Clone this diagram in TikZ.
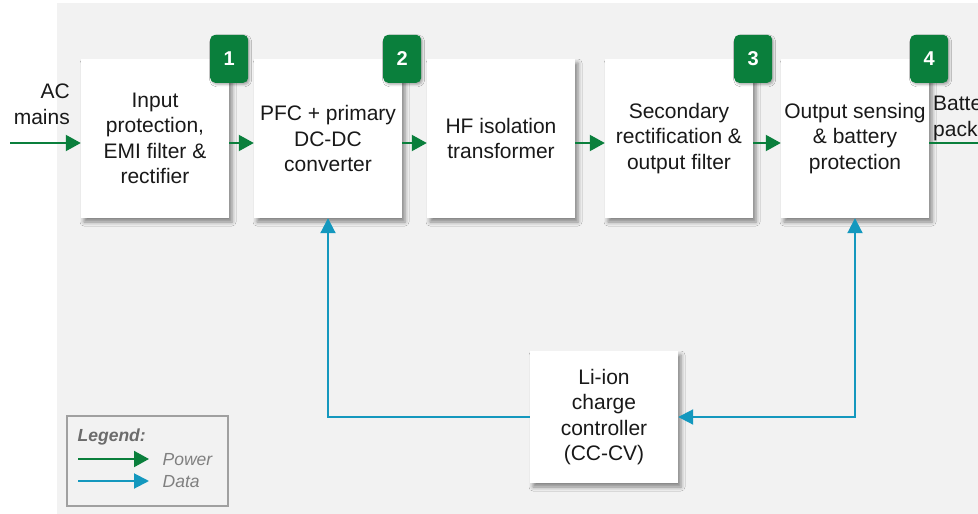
\documentclass[tikz,border=0pt]{standalone}
\usepackage{fontspec}
\setmainfont{Liberation Sans}
\usetikzlibrary{arrows.meta,shadows.blur}

\definecolor{pwgreen}{RGB}{10,127,60}
\definecolor{dtblue}{RGB}{20,152,190}
\definecolor{panelgray}{RGB}{242,242,242}
\definecolor{legendtxt}{RGB}{128,128,128}
\definecolor{legendhead}{RGB}{108,108,108}
\definecolor{legendframe}{RGB}{160,160,160}
\definecolor{boxtext}{RGB}{25,25,25}

\tikzset{
  stage/.style={fill=white, minimum width=148pt, minimum height=159pt,
    inner sep=0pt, align=center, text=boxtext,
    font=\fontsize{21}{25.5}\selectfont,
    blur shadow={shadow xshift=3pt, shadow yshift=-4pt,
      shadow blur radius=4pt, shadow opacity=45}},
  ctrlbox/.style={stage, minimum height=132pt},
  badge/.style={fill=pwgreen, rounded corners=5pt, minimum width=38pt,
    minimum height=48pt, inner sep=0pt, text=white,
    font=\fontsize{20}{24}\selectfont\bfseries,
    blur shadow={shadow xshift=1.5pt, shadow yshift=-2pt,
      shadow blur radius=2pt, shadow opacity=30}},
  sidetext/.style={inner sep=0pt, text=boxtext,
    font=\fontsize{21}{25.5}\selectfont},
  pw/.style={draw=pwgreen, line width=2pt, -{Triangle[length=15pt,width=16pt]}},
  dt/.style={draw=dtblue, line width=2pt, -{Triangle[length=15pt,width=15pt]}},
  dtboth/.style={draw=dtblue, line width=2pt,
    {Triangle[length=15pt,width=15pt]}-{Triangle[length=15pt,width=15pt]}},
  legendbox/.style={draw=legendframe, line width=1.3pt, minimum width=161pt,
    minimum height=90pt, inner sep=0pt},
  legendhd/.style={inner sep=0pt, text=legendhead,
    font=\fontsize{17.5}{21}\selectfont\bfseries\itshape},
  legendlbl/.style={inner sep=0pt, text=legendtxt,
    font=\fontsize{17.5}{21}\selectfont\itshape},
}

\begin{document}
\begin{tikzpicture}[x=1pt, y=-1pt]
  \clip (0,0) rectangle (978,514);
  \fill[white] (0,0) rectangle (978,514);
  \fill[panelgray] (57,3) rectangle (1000,530);

  % signal-chain stages
  \node[stage] (b1) at (155,138.5) {Input\\protection,\\EMI filter \&\\rectifier};
  \node[stage] (b2) at (328,138.5) {PFC + primary\\DC-DC\\converter};
  \node[stage] (b3) at (501,138.5) {HF isolation\\transformer};
  \node[stage] (b4) at (679,138.5) {Secondary\\rectification \&\\output filter};
  \node[stage] (b5) at (855,138.5) {Output sensing\\\& battery\\protection};

  % charge controller
  \node[ctrlbox] (li) at (604,417) {Li-ion\\charge\\controller\\(CC-CV)};

  % numbered badges
  \node[badge] (n1) at (b1.north east) {1};
  \node[badge] (n2) at (b2.north east) {2};
  \node[badge] (n4) at (b4.north east) {3};
  \node[badge] (n5) at (b5.north east) {4};

  % input / output labels
  \node[sidetext, align=right, anchor=east] (acl) at (70,104.25) {AC\\mains};
  \node[sidetext, align=left, anchor=west] (bpl) at (933,118.5) {Battery\\pack};
  \coordinate (acin) at (10,143);
  \coordinate (bpout) at (1000,143);

  % power path
  \draw[pw] (acin) -- ([yshift=-4.5pt]b1.west);
  \draw[pw] ([yshift=-4.5pt]b1.east) -- ([yshift=-4.5pt]b2.west);
  \draw[pw] ([yshift=-4.5pt]b2.east) -- ([yshift=-4.5pt]b3.west);
  \draw[pw] ([yshift=-4.5pt]b4.east) -- ([yshift=-4.5pt]b5.west);
  \draw[pw] ([yshift=-4.5pt]b5.east) -- (bpout);
  \draw[pw] ([yshift=-4.5pt]b3.east) -- ([yshift=-4.5pt]b4.west);

  % control / sensing path
  \draw[dt] (li.west) -| (b2.south);
  \draw[dtboth] (b5.south) |- (li.east);

  % legend
  \node[legendbox] (lg) at (147.5,461) {};
  \node[legendhd, anchor=west] (lgt) at (77.5,437) {Legend:};
  \coordinate (lpa) at (78,459);
  \coordinate (lpb) at (149,459);
  \coordinate (lda) at (78,481);
  \coordinate (ldb) at (149,481);
  \draw[pw] (lpa) -- (lpb);
  \draw[dt] (lda) -- (ldb);
  \node[legendlbl, anchor=west] (lgp) at (162.5,460) {Power};
  \node[legendlbl, anchor=west] (lgd) at (162.5,482) {Data};
\end{tikzpicture}
\end{document}
